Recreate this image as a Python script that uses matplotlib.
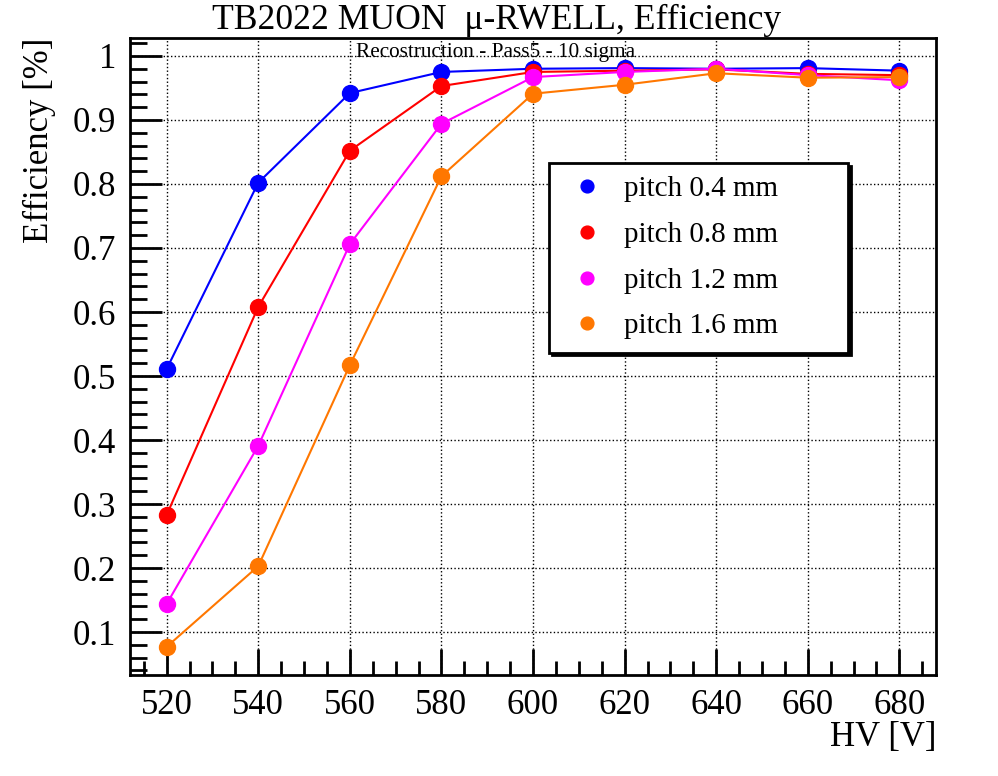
import matplotlib
matplotlib.use("Agg")
import matplotlib.pyplot as plt
from matplotlib.ticker import MultipleLocator

plt.rcParams['font.family'] = ['Liberation Serif', 'DejaVu Serif']

# HV points [V]
hv = [520, 540, 560, 580, 600, 620, 640, 660, 680]

# efficiency per strip pitch
eff_p04 = [0.511, 0.802, 0.942, 0.975, 0.980, 0.981, 0.980, 0.981, 0.977]
eff_p08 = [0.283, 0.608, 0.852, 0.953, 0.975, 0.977, 0.979, 0.972, 0.970]
eff_p12 = [0.144, 0.391, 0.706, 0.894, 0.967, 0.975, 0.980, 0.970, 0.962]
eff_p16 = [0.077, 0.203, 0.517, 0.812, 0.941, 0.955, 0.973, 0.966, 0.967]

labels = ['pitch 0.4 mm', 'pitch 0.8 mm', 'pitch 1.2 mm', 'pitch 1.6 mm']
colori = ['#0000ff', '#ff0000', '#ff00ff', '#ff7700']

fig = plt.figure(figsize=(9.98, 7.76), dpi=100)
ax = fig.add_axes([0.1303, 0.1302, 0.8076, 0.8208])

for y, lab, c in zip([eff_p04, eff_p08, eff_p12, eff_p16], labels, colori):
    ax.plot(hv, y, color=c, lw=1.5, marker='o', ms=11.5, mec=c, mfc=c, label=lab)

ax.set_xlim(512, 688)
ax.set_ylim(0.033, 1.028)

ax.xaxis.set_major_locator(MultipleLocator(20))
ax.xaxis.set_minor_locator(MultipleLocator(5))
ax.yaxis.set_minor_locator(MultipleLocator(0.02))
ax.set_yticks([0.1, 0.2, 0.3, 0.4, 0.5, 0.6, 0.7, 0.8, 0.9, 1.0])
ax.set_yticklabels(['0.1', '0.2', '0.3', '0.4', '0.5', '0.6', '0.7', '0.8', '0.9', '1'])

ax.tick_params(which='both', direction='in', top=False, right=False, labelsize=25, width=2)
ax.tick_params(which='major', length=19, pad=10)
ax.tick_params(which='minor', length=10)
ax.tick_params(axis='y', which='major', length=23)
ax.tick_params(axis='y', which='minor', length=12)

ax.grid(True, which='major', color='black', ls=':', lw=1)
for s in ax.spines.values():
    s.set_linewidth(2)

fig.text(0.498, 0.974, 'TB2022 MUON  \u03bc-RWELL, Efficiency', ha='center', va='center', fontsize=25.7)
fig.text(0.497, 0.932, 'Recostruction - Pass5 - 10 sigma', ha='center', va='center', fontsize=15.3)
fig.text(0.040, 0.951, 'Efficiency [%]', rotation=90, ha='center', va='top', fontsize=25)
fig.text(0.938, 0.050, 'HV [V]', ha='right', va='center', fontsize=25)

leg = ax.legend(loc='upper left', bbox_to_anchor=(0.52, 0.513, 0.371, 0.291), mode='expand',
                borderaxespad=0, fontsize=21, markerscale=0.8, handlelength=1.7,
                handletextpad=0.41, labelspacing=0.66, borderpad=0.45, fancybox=False,
                framealpha=1, edgecolor='black', shadow={'color': 'black', 'alpha': 1})
for h in leg.legend_handles:
    h.set_linestyle('none')
leg.get_frame().set_linewidth(2)

plt.savefig('out.png', dpi=100)
